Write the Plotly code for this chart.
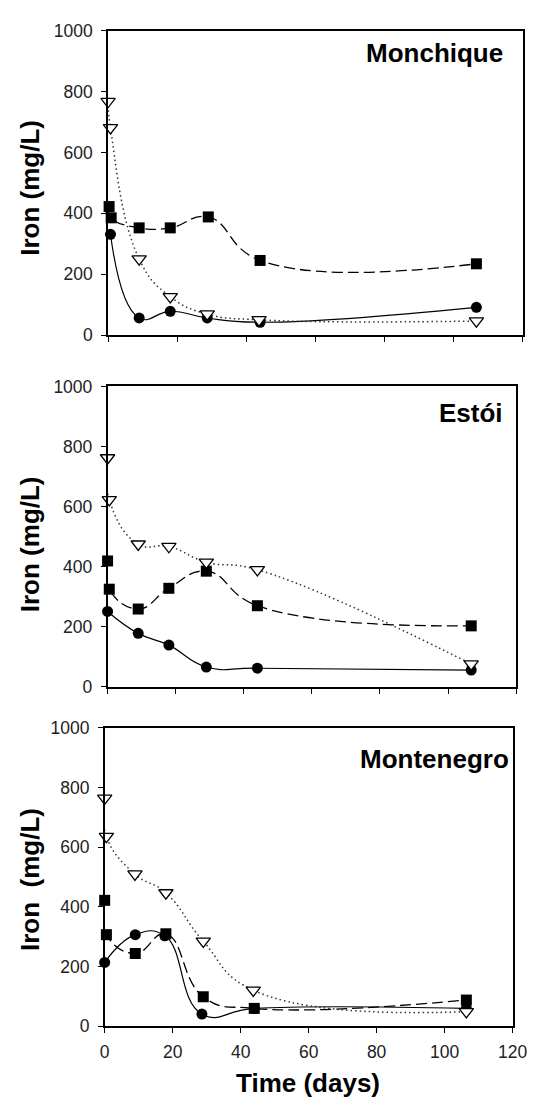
import plotly.graph_objects as go

W, H = 543, 1108

# ---------------- data ----------------
# Monchique
mon_tri_x = [0, 0.7, 9, 18, 28.7, 43.7, 106.6]
mon_tri_y = [767, 681, 250, 126, 69, 50, 46]
mon_sq_x = [0.3, 0.9, 9, 18, 29, 44, 106.6]
mon_sq_y = [422, 385, 352, 352, 388, 245, 234]
mon_ci_x = [0.7, 9, 18, 28.7, 44, 106.6]
mon_ci_y = [331, 56, 78, 56, 42, 91]

# Estói
est_tri_x = [0, 0.5, 9, 18, 29, 44, 106.8]
est_tri_y = [762, 623, 475, 467, 415, 390, 76]
est_sq_x = [0, 0.5, 9, 18, 29, 44, 106.8]
est_sq_y = [419, 325, 259, 328, 385, 270, 203]
est_ci_x = [0, 9, 18, 29, 44, 106.8]
est_ci_y = [251, 178, 139, 66, 62, 56]

# Montenegro
mng_tri_x = [0, 0.5, 8.9, 18, 29, 43.7, 106.4]
mng_tri_y = [764, 636, 510, 447, 285, 121, 49]
mng_sq_x = [0, 0.5, 9, 18, 29, 44, 106.4]
mng_sq_y = [422, 307, 244, 310, 99, 60, 88]
mng_ci_x = [0, 9, 17.7, 28.6, 44, 106.4]
mng_ci_y = [214, 307, 303, 41, 60, 60]

panel_names = ["Monchique", "Estói", "Montenegro"]
y_titles = ["Iron (mg/L)", "Iron (mg/L)", "Iron\u00a0\u00a0(mg/L)"]
x_title = "Time (days)"
x_ticks = [0, 20, 40, 60, 80, 100, 120]
y_ticks = [0, 200, 400, 600, 800, 1000]

panels = [
    (mon_ci_x, mon_ci_y, mon_sq_x, mon_sq_y, mon_tri_x, mon_tri_y),
    (est_ci_x, est_ci_y, est_sq_x, est_sq_y, est_tri_x, est_tri_y),
    (mng_ci_x, mng_ci_y, mng_sq_x, mng_sq_y, mng_tri_x, mng_tri_y),
]

# pixel boxes of each plot area: (left, right, top, bottom)
boxes = [(107, 537.5, 21, 331), (106.5, 530.7, 383.3, 689.3), (103.5, 527, 731, 1035)]
title_pos = [(519, 44), (519, 410), (525, 763)]
ytitle_pos = [181, 544, 886]

FONT = "Liberation Sans, Arial, sans-serif"
SMOOTH = 1.3

fig = go.Figure()
for i, (cx, cy, sx, sy, tx, ty) in enumerate(panels):
    n = "" if i == 0 else str(i + 1)
    xa, ya = "x" + n, "y" + n
    fig.add_trace(go.Scatter(x=cx, y=cy, xaxis=xa, yaxis=ya, mode="lines+markers",
                             line=dict(color="black", width=1.2, shape="spline", smoothing=SMOOTH),
                             marker=dict(symbol="circle", size=11, color="black"),
                             cliponaxis=False, showlegend=False))
    fig.add_trace(go.Scatter(x=sx, y=sy, xaxis=xa, yaxis=ya, mode="lines+markers",
                             line=dict(color="black", width=1.3, shape="spline", smoothing=SMOOTH,
                                       dash="11px,5px"),
                             marker=dict(symbol="square", size=11, color="black"),
                             cliponaxis=False, showlegend=False))
    fig.add_trace(go.Scatter(x=tx, y=ty, xaxis=xa, yaxis=ya, mode="lines+markers",
                             line=dict(color="#333333", width=1.5, shape="spline", smoothing=SMOOTH,
                                       dash="1.5px,3px"),
                             marker=dict(symbol="triangle-down", size=12.5, color="white",
                                         line=dict(color="black", width=1.3)),
                             cliponaxis=False, showlegend=False))

    l, r, t, b = boxes[i]
    axcommon = dict(showline=True, linecolor="black", linewidth=1.5, mirror=True,
                    ticks="outside", ticklen=5, tickwidth=1.2, tickcolor="black",
                    showgrid=False, zeroline=False,
                    tickfont=dict(family=FONT, size=17.5, color="#222"))
    fig.layout["xaxis" + n] = dict(domain=[l / W, r / W], range=[0, 120], tickvals=x_ticks,
                                   showticklabels=(i == 2), anchor=ya,
                                   ticklabelstandoff=4, **axcommon)
    fig.layout["yaxis" + n] = dict(domain=[1 - b / H, 1 - t / H], range=[0, 1000],
                                   tickvals=y_ticks, anchor=xa, ticklabelstandoff=5, **axcommon)

    tx_, ty_ = title_pos[i]
    fig.add_annotation(text="<b>" + panel_names[i] + "</b>", xref="paper", yref="paper",
                       x=tx_ / W, y=1 - ty_ / H, xanchor="right", yanchor="middle",
                       showarrow=False, font=dict(family=FONT, size=26, color="black"))
    fig.add_annotation(text="<b>" + y_titles[i] + "</b>", xref="paper", yref="paper",
                       x=26 / W, y=1 - ytitle_pos[i] / H, xanchor="center", yanchor="middle",
                       textangle=-90, showarrow=False,
                       font=dict(family=FONT, size=26, color="black"))

fig.add_annotation(text="<b>" + x_title + "</b>", xref="paper", yref="paper",
                   x=315 / W, y=1 - 1093 / H, xanchor="center", yanchor="middle",
                   showarrow=False, font=dict(family=FONT, size=26, color="black"))

fig.update_layout(width=W, height=H, autosize=False,
                  margin=dict(l=0, r=0, t=0, b=0),
                  paper_bgcolor="white", plot_bgcolor="white")

fig.write_html("out.html")
